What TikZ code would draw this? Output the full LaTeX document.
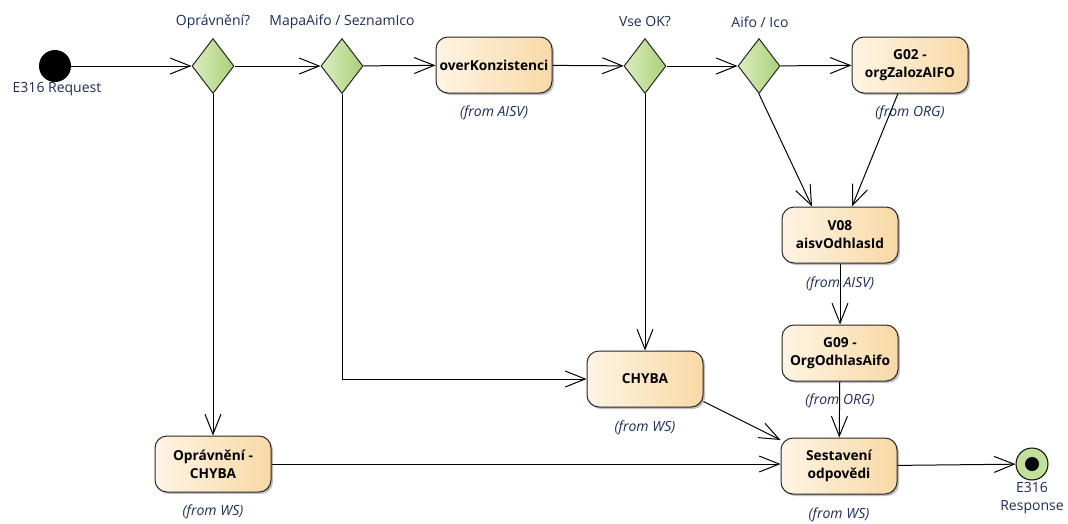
\documentclass[tikz,border=0pt]{standalone}
\usepackage{fontspec}
\setmainfont{Open Sans}
\usetikzlibrary{arrows.meta,shapes.geometric,shadows,calc}
\definecolor{boxL}{HTML}{FEF4E4}
\definecolor{boxR}{HTML}{F8D9A6}
\definecolor{decL}{HTML}{DCEDBE}
\definecolor{decR}{HTML}{A9D07A}
\definecolor{navy}{HTML}{1E2D55}
\definecolor{endG}{HTML}{C3E09A}
\begin{document}
\begin{tikzpicture}[x=1pt,y=-1pt,
  act/.style={draw=black!85, line width=1pt, rounded corners=12pt,
    minimum width=116pt, minimum height=56pt, left color=boxL, right color=boxR,
    align=center, inner sep=2pt, font=\bfseries\fontsize{13.7}{18}\selectfont,
    drop shadow={shadow xshift=2pt, shadow yshift=-2pt, opacity=0.25, fill=black}},
  dec/.style={diamond, draw=black!85, line width=1pt, left color=decL, right color=decR,
    minimum width=42pt, minimum height=55pt, inner sep=0pt},
  lbl/.style={font=\fontsize{14}{17}\selectfont, text=navy, align=center},
  frm/.style={font=\itshape\fontsize{14}{17}\selectfont, text=navy},
  flow/.style={draw=black, line width=1pt, -{Straight Barb[length=20pt,width=16pt,line width=1pt]}}
]
\useasboundingbox (0,0) rectangle (1068,523);

% nodes
\node[circle, fill=black, minimum size=32pt, inner sep=0pt] (start) at (55,66) {};
\node[lbl, anchor=north] (startl) at (57,79) {E316 Request};

\node[dec] (d1) at (213,66) {};
\node[lbl] (d1l) at (213,22) {Oprávnění?};
\node[dec] (d2) at (342,66) {};
\node[lbl] (d2l) at (342,22) {MapaAifo / SeznamIco};
\node[act] (over) at (494,65) {overKonzistenci};
\node[frm] (overl) at (494,113) {(from AISV)};
\node[dec] (d3) at (645,66) {};
\node[lbl] (d3l) at (645,22) {Vse OK?};
\node[dec] (d4) at (759,66) {};
\node[lbl] (d4l) at (760,22) {Aifo / Ico};
\node[act] (g02) at (910,65) {G02 -\\orgZalozAIFO};
\node[frm] (g02l) at (910,113) {(from ORG)};
\node[act] (v08) at (840,235) {V08\\aisvOdhlasId};
\node[frm] (v08l) at (840,284) {(from AISV)};
\node[act] (g09) at (840,353) {G09 -\\OrgOdhlasAifo};
\node[frm] (g09l) at (840,401) {(from ORG)};
\node[act] (chyba) at (645,379) {CHYBA};
\node[frm] (chybal) at (645,428) {(from WS)};
\node[act] (opr) at (213,464) {Oprávnění -\\CHYBA};
\node[frm] (oprl) at (213,512) {(from WS)};
\node[act] (sest) at (839,466) {Sestavení\\odpovědi};
\node[frm] (sestl) at (839,515) {(from WS)};
\node[circle, draw=black, line width=1pt, fill=endG, minimum size=32pt, inner sep=0pt] (end) at (1032,464) {};
\node[circle, fill=black, minimum size=14pt, inner sep=0pt] (endc) at (end) {};
\node[lbl, anchor=north, font=\fontsize{14}{18}\selectfont] (endl) at (1032,479) {E316\\Response};

% connectors
\draw[flow] (start) -- (d1);
\draw[flow] (d1) -- (d2);
\draw[flow] (d1.south) -- (opr.north);
\draw[flow] (d2) -- (over);
\draw[flow] (d2.south) |- (chyba.west);
\draw[flow] (over) -- (d3);
\draw[flow] (d3.south) -- (chyba.north);
\draw[flow] (d3) -- (d4);
\draw[flow] (d4) -- (g02);
\coordinate (v08a) at ($(v08.north)+(-28,0)$);
\coordinate (v08b) at ($(v08.north)+(12,0)$);
\coordinate (g02b) at ($(g02.south)+(-12,0)$);
\draw[flow] (d4.south) -- (v08a);
\draw[flow] (g02b) -- (v08b);
\draw[flow] (v08) -- (g09);
\draw[flow] (g09) -- (sest);
\coordinate (chybae) at ($(chyba.south east)+(0,-6)$);
\coordinate (sestw) at ($(sest.west)+(0,-26)$);
\draw[flow] (chybae) -- (sestw);
\draw[flow] (opr) -- (opr -| sest.west);
\draw[flow] (sest) -- (end);
\end{tikzpicture}
\end{document}
